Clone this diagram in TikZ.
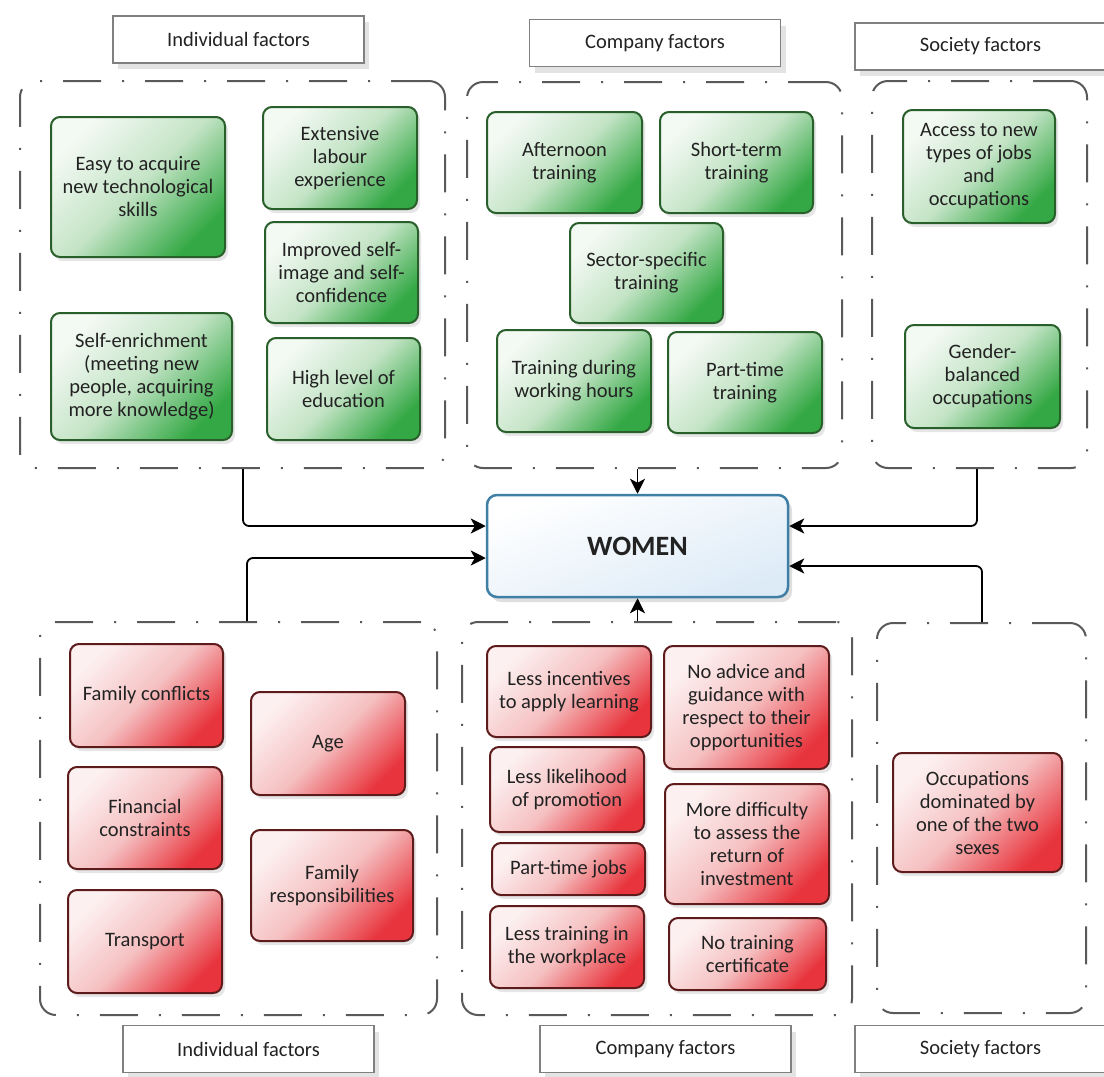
\documentclass[tikz,border=0pt]{standalone}
\usepackage{fontspec}
\setmainfont{Carlito}
\usetikzlibrary{arrows.meta,shadows}

\definecolor{ink}{HTML}{222222}
\definecolor{leafdark}{HTML}{285F2A}
\definecolor{leaflight}{HTML}{F3F9F3}
\definecolor{leafmid}{HTML}{C4E4C6}
\definecolor{leafdeep}{HTML}{33A844}
\definecolor{rosedark}{HTML}{5E1B1B}
\definecolor{roselight}{HTML}{FDF0F0}
\definecolor{rosemid}{HTML}{F5C0C1}
\definecolor{rosedeep}{HTML}{E8353D}
\definecolor{skyline}{HTML}{3F7FA6}
\definecolor{skyfill}{HTML}{DDEBF7}

\tikzset{
  every node/.style={font=\fontsize{20.5}{23}\selectfont, text=ink, align=center},
  wh/.style 2 args={minimum width=#1pt, minimum height=#2pt},
  boon/.style={draw=leafdark, line width=2pt, rounded corners=9pt, top color=leaflight, bottom color=leafdeep, middle color=leafmid, shading angle=45, drop shadow={shadow xshift=3pt, shadow yshift=-4pt, opacity=.2}},
  bane/.style={draw=rosedark, line width=2pt, rounded corners=9pt, top color=roselight, bottom color=rosedeep, middle color=rosemid, shading angle=45, drop shadow={shadow xshift=3pt, shadow yshift=-4pt, opacity=.2}},
  area/.style={draw=gray!70!black, line width=2pt, rounded corners=16pt, dash pattern=on 38pt off 21pt on 2pt off 21pt, inner sep=0pt},
  tag/.style={draw=gray, line width=1.2pt, fill=white, wh={251}{47}, drop shadow={shadow xshift=5pt, shadow yshift=-6pt, opacity=.22}},
  hub/.style={draw=skyline, line width=2.5pt, rounded corners=10pt, top color=white, bottom color=skyfill, shading angle=20, font=\fontsize{28}{32}\selectfont\bfseries, drop shadow={shadow xshift=4pt, shadow yshift=-5pt, opacity=.25}},
  flow/.style={draw=black, line width=1.8pt, rounded corners=6pt, -{Stealth[length=15pt,width=15pt,inset=4pt]}}
}

\begin{document}
\begin{tikzpicture}[x=1pt,y=-1pt]
\useasboundingbox (0,0) rectangle (1104,1077);

\node[area, wh={425}{387}] (indtop) at (232.5,274.5) {};
\node[area, wh={375}{386}] (comptop) at (654.5,275) {};
\node[area, wh={215}{387}] (soctop) at (979.5,274.5) {};
\node[area, wh={397}{393}] (indbot) at (238.5,818.5) {};
\node[area, wh={390}{393}] (compbot) at (657,818.5) {};
\node[area, wh={209}{390}] (socbot) at (981.5,818) {};

\node[tag] (indlab) at (238.5,39.5) {Individual factors};
\node[tag] (complab) at (655,43) {Company factors};
\node[tag] (soclab) at (980.5,46.5) {Society factors};
\node[tag] (indlab2) at (248.5,1049) {Individual factors};
\node[tag] (complab2) at (665.5,1049) {Company factors};
\node[tag] (soclab2) at (980.5,1049) {Society factors};

\node[boon, wh={174}{140}] (easy) at (138,187) {Easy to acquire\\new technological\\skills};
\node[boon, wh={154}{102}] (labour) at (340,158) {Extensive\\labour\\experience};
\node[boon, wh={153}{101}] (image) at (341.5,272.5) {Improved self-\\image and self-\\confidence};
\node[boon, wh={181}{127}] (enrich) at (141.5,376.5) {Self-enrichment\\(meeting new\\people, acquiring\\more knowledge)};
\node[boon, wh={153}{102}] (educ) at (343.5,389) {High level of\\education};

\node[boon, wh={155}{101}] (noon) at (564.5,162.5) {Afternoon\\training};
\node[boon, wh={153}{101}] (short) at (736.5,162.5) {Short-term\\training};
\node[boon, wh={153}{100}] (sector) at (646.5,273) {Sector-specific\\training};
\node[boon, wh={154}{102}] (hours) at (574,381) {Training during\\working hours};
\node[boon, wh={154}{101}] (ptrain) at (745,382.5) {Part-time\\training};

\node[boon, wh={152}{113}] (access) at (979,166.5) {Access to new\\types of jobs\\and\\occupations};
\node[boon, wh={155}{103}] (gender) at (982.5,376.5) {Gender-\\balanced\\occupations};

\node[bane, wh={153}{103}] (conflict) at (146.5,695.5) {Family conflicts};
\node[bane, wh={154}{103}] (age) at (328,743.5) {Age};
\node[bane, wh={154}{102}] (money) at (145,818) {Financial\\constraints};
\node[bane, wh={162}{111}] (duties) at (332,885.5) {Family\\responsibilities};
\node[bane, wh={154}{103}] (transport) at (145,941.5) {Transport};

\node[bane, wh={164}{91}] (incent) at (569,691.5) {Less incentives\\to apply learning};
\node[bane, wh={165}{123}] (advice) at (746.5,707.5) {No advice and\\guidance with\\respect to their\\opportunities};
\node[bane, wh={154}{85}] (promo) at (567,789.5) {Less likelihood\\of promotion};
\node[bane, wh={164}{120}] (return) at (747,844) {More difficulty\\to assess the\\return of\\investment};
\node[bane, wh={153}{52}] (ptjobs) at (568.5,869) {Part-time jobs};
\node[bane, wh={154}{82}] (workplace) at (567,947) {Less training in\\the workplace};
\node[bane, wh={157}{72}] (cert) at (747.5,954) {No training\\certificate};

\node[bane, wh={169}{119}] (sexes) at (977.5,812.5) {Occupations\\dominated by\\one of the two\\sexes};

\node[hub, wh={301}{102}] (women) at (637.5,546) {WOMEN};

\draw[flow] ([xshift=10.5pt]indtop.south) |- ([yshift=20pt]women.west);
\draw[flow] ([xshift=8.5pt]indbot.north) |- ([yshift=-12pt]women.west);
\draw[flow] (comptop.south -| women.north) -- (women.north);
\draw[flow] (compbot.north -| women.south) -- (women.south);
\draw[flow] ([xshift=-2.5pt]soctop.south) |- ([yshift=20pt]women.east);
\draw[flow] ([xshift=0.5pt]socbot.north) |- ([yshift=-20pt]women.east);
\end{tikzpicture}
\end{document}
